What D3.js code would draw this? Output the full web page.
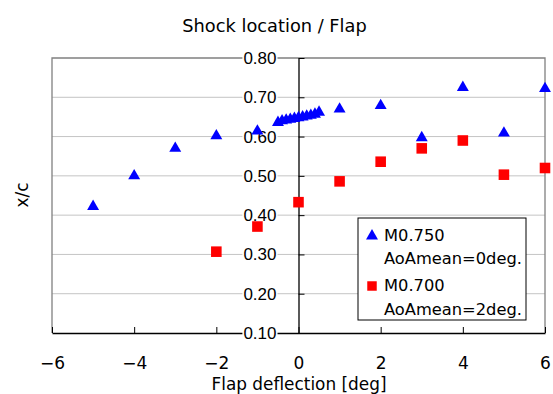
<!DOCTYPE html>
<html>
<head>
<meta charset="utf-8">
<script src="https://cdn.jsdelivr.net/npm/d3@7"></script>
<style>
  body { margin: 0; background: #fff; }
  svg { display: block; }
</style>
</head>
<body>
<div id="chart"></div>
<script>
// Data
const flapM750 = [-5, -4, -3, -2, -1, -0.5, -0.4, -0.3, -0.2, -0.1, 0, 0.1, 0.2, 0.3, 0.4, 0.5, 1, 2, 3, 4, 5, 6];
const xcM750   = [0.422, 0.500, 0.570, 0.602, 0.614, 0.636, 0.640, 0.642, 0.644, 0.646, 0.648, 0.650, 0.652, 0.654, 0.657, 0.662, 0.670, 0.679, 0.597, 0.725, 0.609, 0.722];

const flapM700 = [-2, -1, 0, 1, 2, 3, 4, 5, 6];
const xcM700   = [0.307, 0.371, 0.433, 0.486, 0.536, 0.570, 0.590, 0.503, 0.520];

const xTicks = [-6, -4, -2, 0, 2, 4, 6];
const yTicks = [0.1, 0.2, 0.3, 0.4, 0.5, 0.6, 0.7, 0.8];

const legendLabels = [["M0.750", "AoAmean=0deg."], ["M0.700", "AoAmean=2deg."]];

const gothic = "'DejaVu Sans', sans-serif";
const arial = "'Liberation Sans', Arial, sans-serif";

const W = 553, H = 394;
const margin = {top: 58, right: 8, bottom: 61, left: 52},
    width = W - margin.left - margin.right,
    height = H - margin.top - margin.bottom;

const svg = d3.select("#chart")
  .append("svg")
    .attr("width", W)
    .attr("height", H)
  .append("g")
    .attr("transform", `translate(${margin.left}, ${margin.top})`);

const x = d3.scaleLinear().domain([-6, 6]).range([0, width]);
const y = d3.scaleLinear().domain([0.1, 0.8]).range([height, 0]);

// title
svg.append("text")
    .attr("x", 274.5 - margin.left)
    .attr("y", 25 - margin.top)
    .attr("text-anchor", "middle")
    .attr("dominant-baseline", "central")
    .style("font-family", gothic)
    .style("font-size", "17.8px")
    .text("Shock location / Flap");

// gridlines
svg.append("g")
  .selectAll("line")
  .data(yTicks.slice(1, -1))
  .join("line")
    .attr("x1", 0).attr("x2", width)
    .attr("y1", d => y(d)).attr("y2", d => y(d))
    .attr("stroke", "#c4c4c4")
    .attr("stroke-width", 1);

// plot border
svg.append("path")
    .attr("d", `M0,${height}V0H${width}V${height}`)
    .attr("fill", "none")
    .attr("stroke", "#808080")
    .attr("stroke-width", 1.3);

// x axis
const xAxis = svg.append("g")
    .attr("transform", `translate(0, ${height})`)
    .call(d3.axisBottom(x).tickValues(xTicks).tickSizeInner(-6).tickSizeOuter(0).tickPadding(24)
      .tickFormat(d => d < 0 ? "\u2212" + Math.abs(d) : d));
xAxis.select(".domain").attr("stroke", "#000").attr("stroke-width", 1.3);
xAxis.selectAll(".tick line").attr("stroke", "#000");
xAxis.selectAll(".tick text")
    .style("font-family", gothic)
    .style("font-size", "17px")
    .attr("fill", "#000");

// y axis at x = 0
const yAxis = svg.append("g")
    .attr("transform", `translate(${x(0)}, 0)`)
    .call(d3.axisLeft(y).tickValues(yTicks).tickSizeInner(-6).tickSizeOuter(0).tickPadding(22)
      .tickFormat(d3.format(".2f")));
yAxis.select(".domain").attr("stroke", "#000").attr("stroke-width", 1.3);
yAxis.selectAll(".tick line").attr("stroke", "#000");
yAxis.selectAll(".tick text")
    .style("font-family", arial)
    .style("font-size", "17px")
    .attr("fill", "#000");
// white boxes behind the y labels
yAxis.selectAll(".tick").each(function() {
  const t = d3.select(this).select("text");
  const b = t.node().getBBox();
  d3.select(this).insert("rect", "text")
    .attr("x", b.x - 1).attr("y", b.y + 1)
    .attr("width", b.width + 2).attr("height", b.height - 2)
    .attr("fill", "#fff");
});

// axis titles
svg.append("text")
    .attr("x", 299 - margin.left)
    .attr("y", 384 - margin.top)
    .attr("text-anchor", "middle")
    .attr("dominant-baseline", "central")
    .style("font-family", gothic)
    .style("font-size", "16.9px")
    .text("Flap deflection [deg]");

svg.append("text")
    .attr("transform", `translate(${22 - margin.left}, ${195 - margin.top}) rotate(-90)`)
    .attr("text-anchor", "middle")
    .attr("dominant-baseline", "central")
    .style("font-family", gothic)
    .style("font-size", "17px")
    .text("x/c");

// markers
const tri = d3.symbol().type(d3.symbolTriangle).size(62);
const sq = d3.symbol().type(d3.symbolSquare).size(112);

svg.append("g")
  .selectAll("path")
  .data(d3.zip(flapM700, xcM700))
  .join("path")
    .attr("d", sq)
    .attr("transform", d => `translate(${x(d[0])}, ${y(d[1])})`)
    .attr("fill", "#ff0000");

svg.append("g")
  .selectAll("path")
  .data(d3.zip(flapM750, xcM750))
  .join("path")
    .attr("d", tri)
    .attr("transform", d => `translate(${x(d[0])}, ${y(d[1])})`)
    .attr("fill", "#0000ff");

// legend
const legend = svg.append("g")
    .attr("transform", `translate(${358 - margin.left}, ${218 - margin.top})`);
legend.append("rect")
    .attr("width", 168).attr("height", 102)
    .attr("fill", "#fff")
    .attr("stroke", "#000")
    .attr("stroke-width", 1);
legend.append("path")
    .attr("d", tri)
    .attr("transform", "translate(14, 18)")
    .attr("fill", "#0000ff");
legend.append("path")
    .attr("d", d3.symbol().type(d3.symbolSquare).size(90))
    .attr("transform", "translate(14, 68)")
    .attr("fill", "#ff0000");
legendLabels.forEach((lines, i) => {
  lines.forEach((s, j) => {
    legend.append("text")
        .attr("x", 26)
        .attr("y", 17 + i * 50.5 + j * 23.5)
        .attr("dominant-baseline", "central")
        .style("font-family", gothic)
        .style("font-size", "16.3px")
        .text(s);
  });
});
</script>
</body>
</html>
